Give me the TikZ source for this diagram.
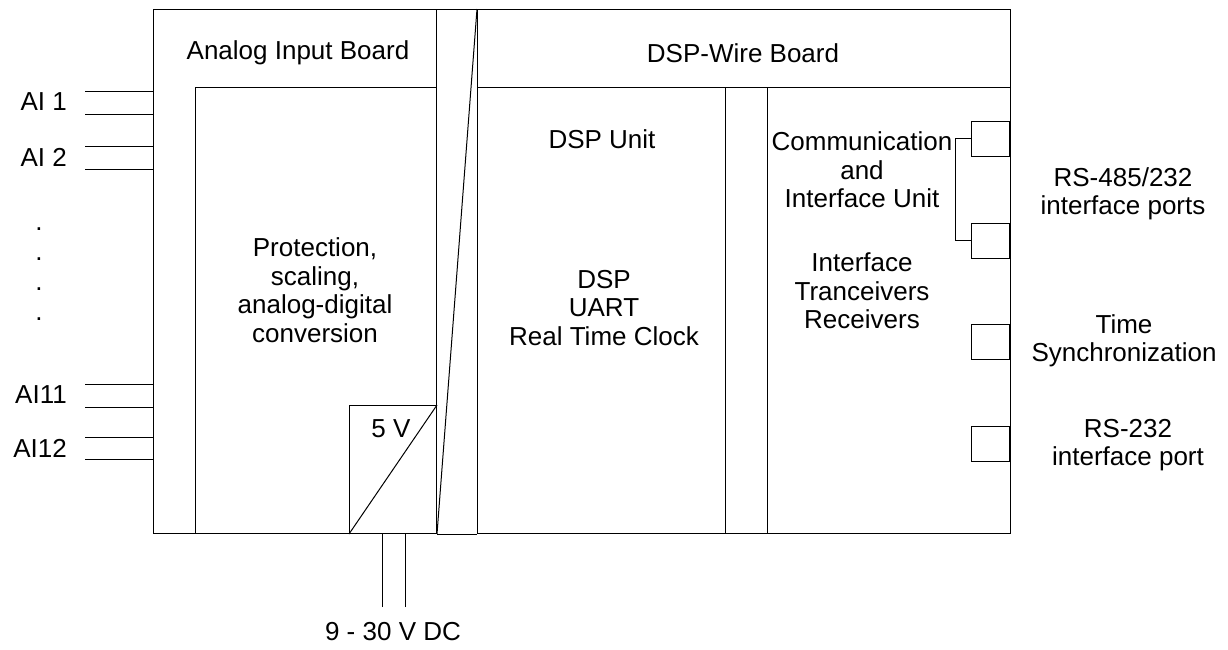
\documentclass[tikz,border=0pt]{standalone}
\usepackage{fontspec}
\setmainfont{Liberation Sans}

\tikzset{
  unit/.style={draw, line width=1pt, inner sep=0pt, anchor=north west},
  port/.style={draw, line width=1pt, inner sep=0pt, minimum width=38pt, minimum height=35pt, anchor=east},
  lbl/.style={align=center, font=\fontsize{26}{28.5}\selectfont, inner sep=0pt},
  wire/.style={line width=1pt}
}

\begin{document}
\begin{tikzpicture}[x=1pt,y=-1pt]
  \useasboundingbox (0,0) rectangle (1228,649);
  % the two boards
  \node[unit, minimum width=283pt, minimum height=524pt] (aib) at (153,9) {};
  \node[unit, minimum width=533pt, minimum height=524pt] (wire) at (477,9) {};
  \draw[wire] (aib.north east) -- (wire.north west)
              (aib.south east) -- (wire.south west);
  \draw[wire] (wire.north west) -- (aib.south east);
  % units on the boards
  \node[unit, minimum width=241pt, minimum height=446pt] (prot) at (195,87) {};
  \node[unit, minimum width=248pt, minimum height=446pt] (dspu) at (477,87) {};
  \node[unit, minimum width=42pt,  minimum height=446pt] (strip) at (725,87) {};
  \node[unit, minimum width=243pt, minimum height=446pt] (comm) at (767,87) {};
  \node[unit, minimum width=87pt,  minimum height=128pt] (conv) at (349,405) {};
  \draw[wire] (conv.south west) -- (conv.north east);
  \node[lbl] (convt) at (391,429) {5 V};

  \node[lbl] (aibt)  at (298,53)  {Analog Input Board};
  \node[lbl] (wiret) at (743,53)  {DSP-Wire Board};
  \node[lbl] (prott) at (315,290) {Protection,\\scaling,\\analog-digital\\conversion};
  \node[lbl] (dspt)  at (602,139) {DSP Unit};
  \node[lbl] (dspc)  at (604,308) {DSP\\UART\\Real Time Clock};
  \node[lbl] (commt) at (862,170) {Communication\\and\\Interface Unit};
  \node[lbl] (commc) at (862,291) {Interface\\Tranceivers\\Receivers};

  % ports on the right wall
  \node[port] (rs1)   at (1010,138.5) {};
  \node[port] (rs2)   at (1010,240.5) {};
  \node[port] (sync)  at (1010,341.5) {};
  \node[port] (rs232) at (1010,443.5) {};
  \draw[wire] (rs1.west) -- ++(-16,0) |- (rs2.west);
  \node[lbl] (rst)    at (1123,194) {RS-485/232\\interface ports};
  \node[lbl] (synct)  at (1124,341) {Time\\Synchronization};
  \node[lbl] (rs232t) at (1128,445) {RS-232\\interface port};

  % analog inputs
  \foreach \k/\y in {1/91, 2/114, 3/146, 4/169, 5/384, 6/407, 7/437, 8/459} {
    \coordinate (in\k) at (85,\y);
    \draw[wire] (in\k) -- (in\k -| aib.west);
  }
  \foreach \t/\y in {AI 1/102, AI 2/157, AI11/395, AI12/448}
    \node[lbl, anchor=east] (ai\y) at (67,\y) {\t};
  \node[lbl, font=\fontsize{26}{30}\selectfont] (dots) at (39,274) {.\\.\\.\\.};

  % supply
  \coordinate (pwa) at (382,607);
  \coordinate (pwb) at (405,607);
  \draw[wire] (pwa) -- (pwa |- aib.south)
              (pwb) -- (pwb |- aib.south);
  \node[lbl] (supply) at (393,632) {9 - 30 V DC};
\end{tikzpicture}
\end{document}
